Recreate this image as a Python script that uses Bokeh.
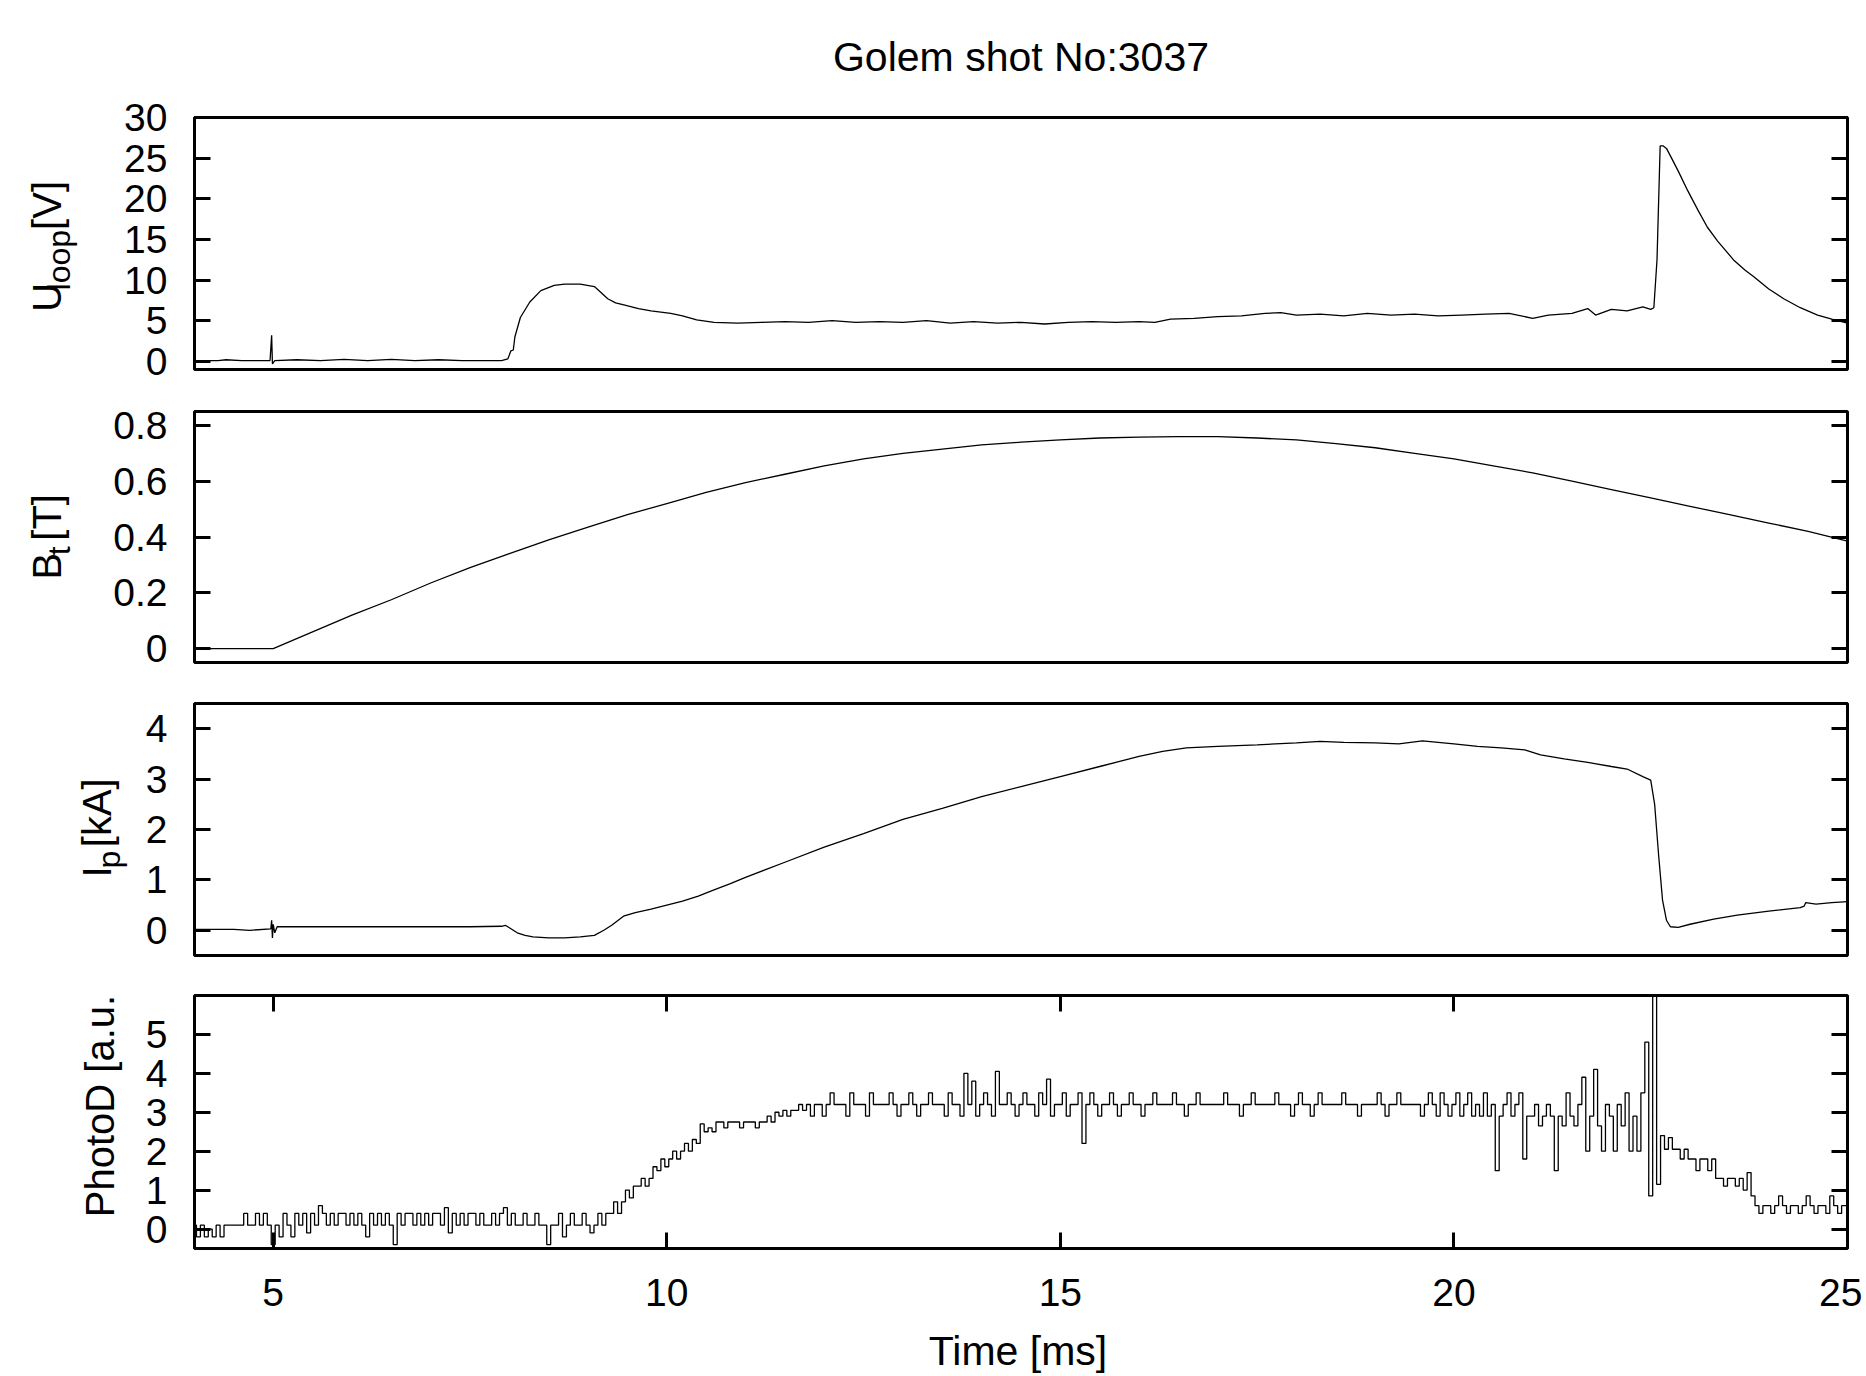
import numpy as np
from bokeh.plotting import figure
from bokeh.models import Range1d, LinearAxis, FixedTicker, CustomJSTickFormatter
from bokeh.core.properties import value
from bokeh.layouts import column, row
from bokeh.embed import file_html
from bokeh.resources import INLINE

# ---------------- data ----------------
TITLE = "Golem shot No:3037"
X_LABEL = "Time [ms]"
X_TICKS = [5, 10, 15, 20, 25]

ULOOP_T = [4.0, 4.3, 4.4, 4.6, 4.96, 4.98, 4.99, 5.02, 5.3, 5.6, 5.9, 6.2, 6.5, 6.8, 7.1, 7.4, 7.7,
           7.9, 7.98, 8.02, 8.05, 8.07, 8.14, 8.26, 8.4, 8.57, 8.7, 8.9, 9.08, 9.15, 9.25, 9.35,
           9.48, 9.64, 9.8, 10.05, 10.2, 10.38, 10.6, 10.9, 11.2, 11.5, 11.8, 12.1, 12.4, 12.7,
           13.0, 13.3, 13.6, 13.9, 14.2, 14.5, 14.8, 15.1, 15.4, 15.7, 16.0, 16.2, 16.4, 16.7,
           17.0, 17.3, 17.6, 17.8, 18.0, 18.3, 18.6, 18.9, 19.2, 19.5, 19.8, 20.1, 20.4, 20.7,
           21.0, 21.2, 21.5, 21.7, 21.8, 22.0, 22.2, 22.4, 22.5, 22.54, 22.58, 22.62, 22.66,
           22.7, 22.76, 22.85, 22.97, 23.1, 23.22, 23.35, 23.56, 23.7, 23.81, 24.0, 24.19, 24.4,
           24.62, 24.8, 25.0]
ULOOP_V = [0.1, 0.1, 0.2, 0.1, 0.1, 3.2, -0.3, 0.1, 0.2, 0.1, 0.25, 0.1, 0.25, 0.1, 0.2, 0.1, 0.1,
           0.1, 0.3, 1.3, 1.4, 3.0, 5.4, 7.3, 8.7, 9.35, 9.5, 9.5, 9.2, 8.6, 7.7, 7.2,
           6.9, 6.5, 6.2, 5.9, 5.6, 5.1, 4.8, 4.7, 4.8, 4.9, 4.8, 5.0, 4.8, 4.9,
           4.8, 5.0, 4.7, 4.9, 4.7, 4.8, 4.6, 4.8, 4.9, 4.8, 4.9, 4.8, 5.2, 5.3,
           5.5, 5.6, 5.9, 6.0, 5.7, 5.8, 5.6, 5.9, 5.7, 5.8, 5.6, 5.7, 5.8, 5.9,
           5.3, 5.7, 5.9, 6.5, 5.7, 6.4, 6.2, 6.7, 6.4, 6.6, 12.5, 26.5, 26.5,
           26.2, 25.1, 23.4, 21.0, 18.6, 16.5, 14.8, 12.4, 11.2, 10.4, 8.9, 7.7, 6.6,
           5.7, 5.2, 4.7]
ULOOP_TICKS = [0, 5, 10, 15, 20, 25, 30]

BT_T = [4.0, 5.0, 5.5, 6.0, 6.5, 7.0, 7.5, 8.0, 8.5, 9.0, 9.5, 10.0, 10.5, 11.0, 11.5, 12.0,
        12.5, 13.0, 13.5, 14.0, 14.5, 15.0, 15.5, 16.0, 16.5, 17.0, 17.5, 18.0, 18.5, 19.0,
        19.5, 20.0, 20.5, 21.0, 21.5, 22.0, 22.5, 23.0, 23.5, 24.0, 24.5, 25.0]
BT_V = [0.0, 0.0, 0.06, 0.12, 0.175, 0.235, 0.29, 0.34, 0.39, 0.435, 0.48, 0.52, 0.56, 0.595,
        0.625, 0.655, 0.68, 0.70, 0.715, 0.73, 0.74, 0.748, 0.755, 0.758, 0.76, 0.76, 0.755,
        0.748, 0.735, 0.72, 0.70, 0.68, 0.655, 0.63, 0.60, 0.57, 0.54, 0.51, 0.48, 0.45,
        0.42, 0.385]
BT_TICKS = [0, 0.2, 0.4, 0.6, 0.8]

IP_T = [4.0, 4.5, 4.7, 4.97, 4.98, 4.99, 5.0, 5.02, 5.05, 5.5, 6.0, 6.5, 7.0, 7.5, 7.9, 7.95,
        8.0, 8.1, 8.2, 8.3, 8.5, 8.7, 8.9, 9.08, 9.2, 9.3, 9.45, 9.6, 9.8, 10.0, 10.2, 10.4,
        10.6, 10.8, 11.0, 11.5, 12.0, 12.5, 13.0, 13.5, 14.0, 14.5, 15.0, 15.5, 16.0, 16.3,
        16.6, 17.0, 17.5, 18.0, 18.3, 18.6, 19.0, 19.3, 19.6, 19.8, 20.0, 20.3, 20.6, 20.9,
        21.1, 21.4, 21.7, 22.0, 22.2, 22.4, 22.5, 22.55, 22.6, 22.65, 22.7, 22.75, 22.85,
        23.0, 23.3, 23.6, 24.0, 24.4, 24.45, 24.47, 24.6, 24.8, 25.0]
IP_V = [0.02, 0.02, 0.0, 0.03, 0.2, -0.15, 0.12, -0.05, 0.07, 0.07, 0.07, 0.07, 0.07, 0.07,
        0.08, 0.1, 0.05, -0.05, -0.1, -0.13, -0.15, -0.15, -0.13, -0.1, 0.0, 0.1, 0.28, 0.35,
        0.42, 0.5, 0.58, 0.68, 0.8, 0.92, 1.05, 1.35, 1.65, 1.92, 2.2, 2.42, 2.65, 2.85, 3.05,
        3.25, 3.45, 3.55, 3.62, 3.65, 3.68, 3.72, 3.75, 3.73, 3.72, 3.70, 3.76, 3.73, 3.7,
        3.65, 3.62, 3.58, 3.48, 3.4, 3.33, 3.25, 3.2, 3.05, 2.98, 2.5, 1.5, 0.6, 0.2, 0.07,
        0.06, 0.12, 0.22, 0.3, 0.38, 0.45, 0.48, 0.55, 0.52, 0.55, 0.57]
IP_TICKS = [0, 1, 2, 3, 4]

PHOTOD_T0 = 4.0
PHOTOD_DT = 0.05
PHOTOD_V = [
    0.1, -0.2, 0.1, -0.2, 0.0, -0.2, 0.1, -0.2, 0.1, 0.1, 0.1, 0.1, 0.1, 0.4, 0.1, 0.1, 0.4, 0.1, 0.4, 0.1,
    -0.4, 0.1, -0.2, 0.4, 0.1, -0.2, 0.4, 0.1, 0.4, -0.1, 0.4, 0.1, 0.6, 0.4, 0.1, 0.4, 0.1, 0.4, 0.4, 0.1,
    0.4, 0.1, 0.4, 0.1, -0.2, 0.4, 0.1, 0.4, 0.1, 0.4, 0.1, -0.4, 0.4, 0.1, 0.4, 0.4, 0.1, 0.4, 0.1, 0.4,
    0.1, 0.4, 0.4, 0.1, 0.55, -0.1, 0.4, 0.1, 0.4, 0.1, 0.4, 0.4, 0.1, 0.4, 0.1, 0.1, 0.4, 0.1, 0.4, 0.55,
    0.1, 0.4, 0.1, 0.1, 0.4, 0.1, 0.1, 0.4, 0.1, 0.1, -0.4, 0.1, 0.1, 0.4, -0.2, 0.1, 0.4, 0.1, 0.1, 0.4,
    0.1, -0.1, 0.1, 0.4, 0.1, 0.4, 0.4, 0.7, 0.4, 0.7, 1.0, 0.8, 1.1, 1.1, 1.3, 1.1, 1.3, 1.6, 1.5, 1.8,
    1.6, 1.8, 2.0, 1.8, 2.0, 2.2, 2.0, 2.3, 2.2, 2.7, 2.5, 2.6, 2.5, 2.75, 2.75, 2.6, 2.75, 2.75, 2.75, 2.6,
    2.75, 2.75, 2.75, 2.6, 2.75, 2.75, 2.9, 2.75, 3.0, 2.9, 3.05, 2.9, 3.05, 3.05, 3.2, 3.05, 3.2, 2.9, 3.2, 3.2,
    2.9, 3.2, 3.5, 3.2, 3.2, 3.2, 2.9, 3.5, 3.2, 3.2, 3.2, 2.9, 3.5, 3.2, 3.2, 3.2, 3.2, 3.5, 3.2, 2.9,
    3.2, 3.2, 3.5, 3.2, 2.9, 3.2, 3.2, 3.5, 3.2, 3.2, 3.2, 2.9, 3.5, 3.2, 3.2, 2.9, 4.0, 3.2, 3.8, 2.9,
    3.2, 3.5, 3.2, 2.9, 4.05, 3.2, 3.2, 3.5, 3.2, 2.9, 3.2, 3.5, 3.2, 3.2, 2.9, 3.5, 3.2, 3.85, 2.9, 3.2,
    3.2, 3.5, 2.9, 3.2, 3.2, 3.5, 2.2, 3.2, 3.5, 3.2, 2.9, 3.2, 3.2, 3.5, 3.2, 2.9, 3.2, 3.2, 3.5, 3.2,
    3.2, 2.9, 3.2, 3.2, 3.5, 3.2, 3.2, 3.2, 3.2, 3.5, 3.2, 3.2, 2.9, 3.2, 3.2, 3.5, 3.2, 3.2, 3.2, 3.2,
    3.2, 3.2, 3.5, 3.2, 3.2, 3.2, 2.9, 3.2, 3.2, 3.5, 3.2, 3.2, 3.2, 3.2, 3.2, 3.5, 3.2, 3.2, 3.2, 2.9,
    3.2, 3.5, 3.2, 3.2, 2.9, 3.2, 3.5, 3.2, 3.2, 3.2, 3.2, 3.2, 3.5, 3.2, 3.2, 3.2, 2.9, 3.2, 3.2, 3.2,
    3.2, 3.5, 3.2, 2.9, 3.2, 3.2, 3.5, 3.2, 3.2, 3.2, 3.2, 3.2, 2.9, 3.2, 3.5, 3.2, 2.9, 3.5, 3.2, 2.9,
    3.2, 3.5, 2.9, 3.2, 3.5, 2.9, 3.2, 2.9, 3.5, 2.9, 3.2, 1.5, 2.9, 3.2, 3.5, 2.9, 3.2, 3.5, 1.8, 2.9,
    2.9, 3.2, 2.65, 2.9, 3.2, 2.9, 1.5, 2.9, 2.65, 3.5, 2.9, 2.65, 3.2, 3.9, 2.0, 2.9, 4.1, 2.65, 2.0, 3.2,
    2.9, 2.0, 3.2, 2.65, 3.5, 2.0, 2.9, 2.0, 3.5, 4.8, 0.85, 9.0, 1.15, 2.4, 2.05, 2.35, 2.05, 2.05, 1.8, 2.05,
    1.8, 1.8, 1.5, 1.8, 1.8, 1.5, 1.8, 1.3, 1.3, 1.1, 1.3, 1.3, 1.1, 1.3, 1.0, 1.45, 0.85, 0.6, 0.4, 0.6,
    0.6, 0.4, 0.6, 0.85, 0.6, 0.4, 0.6, 0.6, 0.4, 0.6, 0.85, 0.6, 0.4, 0.6, 0.6, 0.4, 0.85, 0.6, 0.4, 0.6,
    0.6,
]
PHOTOD_TICKS = [0, 1, 2, 3, 4, 5]

# y labels: (text, is_subscript); pure-space segments only advance the pen
ULOOP_LABEL = [("U", False), ("loop", True), (" ", False), ("[V]", False)]
BT_LABEL = [("B", False), ("t", True), (" ", False), ("[T]", False)]
IP_LABEL = [("I", False), ("p", True), (" ", False), ("[kA]", False)]
PHOTOD_LABEL = [("PhotoD [a.u.]", False)]

# ---------------- styling / layout ----------------
FONT = "Liberation Sans"
TICK_FS = 39
LABEL_FS = 40
SUB_FS = 32
TITLE_FS = 41
XLABEL_FS = 41
FRAME_LEFT = 194
FW = 1653
RIGHT = 15
TOTAL_W = FRAME_LEFT + FW + RIGHT

ARIAL = {'U': 722, ' ': 278, '[': 278, ']': 278, 'V': 667, 'l': 222, 'o': 556, 'p': 556,
         'B': 667, 't': 278, 'T': 611, 'I': 278, 'k': 500, 'A': 667, 'P': 667, 'h': 556,
         'D': 722, 'a': 556, '.': 278, 'u': 556}


def tw(s, size):
    return sum(ARIAL.get(c, 556) for c in s) / 1000.0 * size


xr = Range1d(4, 25)


def text_fig(w, h):
    f = figure(width=w, height=h, x_range=Range1d(0, w), y_range=Range1d(0, h),
               min_border=0, output_backend="svg", toolbar_location=None,
               x_axis_location=None, y_axis_location=None)
    f.outline_line_color = None
    f.xgrid.grid_line_color = None
    f.ygrid.grid_line_color = None
    return f


def style_axis(ax, ticks, labels=True):
    ax.ticker = FixedTicker(ticks=ticks)
    ax.major_tick_in = 16
    ax.major_tick_out = 0
    ax.major_tick_line_width = 3
    ax.major_tick_line_color = "black"
    ax.minor_tick_line_color = None
    ax.axis_line_color = None
    if labels:
        ax.formatter = CustomJSTickFormatter(code="return String(tick)")
        ax.major_label_text_font = FONT
        ax.major_label_text_font_size = f"{TICK_FS}px"
        ax.major_label_text_color = "black"
    else:
        ax.formatter = CustomJSTickFormatter(code="return ''")
        ax.major_label_standoff = 0


def make_row(t, v, yrange, yticks, fh, top, bottom, label, baseline_x, label_w, last=False, step=False):
    p = figure(frame_width=FW, frame_height=fh, x_range=xr, y_range=Range1d(*yrange),
               min_border_left=FRAME_LEFT - label_w, min_border_right=RIGHT,
               min_border_top=top, min_border_bottom=bottom,
               output_backend="svg", toolbar_location=None,
               x_axis_location="below" if last else None, y_axis_location="left")
    p.outline_line_color = "black"
    p.outline_line_width = 3
    p.xgrid.grid_line_color = None
    p.ygrid.grid_line_color = None

    yax = p.yaxis[0]
    style_axis(yax, yticks)
    yax.major_label_standoff = 27
    rax = LinearAxis()
    style_axis(rax, yticks, labels=False)
    p.add_layout(rax, "right")

    if last:
        bax = p.below[0]
        style_axis(bax, X_TICKS)
        bax.major_label_standoff = 30
        tax = LinearAxis()
        style_axis(tax, X_TICKS, labels=False)
        p.add_layout(tax, "above")

    if step:
        p.step(t, v, mode="center", line_color="black", line_width=1.3)
    else:
        p.line(t, v, line_color="black", line_width=1.3)

    # rotated y label (with subscript) in its own text strip; each piece centre-anchored
    h = top + fh + bottom
    lf = text_fig(label_w, h)
    total = sum(tw(s, SUB_FS if sub else LABEL_FS) for s, sub in label)
    frame_mid = h - (top + fh / 2.0)          # strip coords, y up
    pos = frame_mid - total / 2.0
    for s, sub in label:
        size = SUB_FS if sub else LABEL_FS
        w = tw(s, size)
        if s.strip():
            mid_x = baseline_x + (10 if sub else 0) - 0.35 * size
            lf.text(x=[mid_x], y=[pos + w / 2.0], text=[s], angle=np.pi / 2,
                    text_align="center", text_baseline="middle",
                    text_font=value(FONT), text_font_size=value(f"{size}px"), text_color="black")
        pos += w
    return row(lf, p, spacing=0)


TITLE_H = 87
tf = text_fig(TOTAL_W, TITLE_H)
tf.text(x=[FRAME_LEFT + FW / 2.0], y=[TITLE_H - 56], text=[TITLE], text_align="center",
        text_baseline="middle", text_font=value(FONT), text_font_size=value(f"{TITLE_FS}px"),
        text_color="black")

r1 = make_row(ULOOP_T, ULOOP_V, (-1, 30), ULOOP_TICKS, 252, 30, 21, ULOOP_LABEL, 60, 110)
r2 = make_row(BT_T, BT_V, (-0.05, 0.85), BT_TICKS, 251, 21, 20, BT_LABEL, 60, 110)
r3 = make_row(IP_T, IP_V, (-0.5, 4.5), IP_TICKS, 252, 21, 20, IP_LABEL, 110, 140)
pd_t = PHOTOD_T0 + PHOTOD_DT * np.arange(len(PHOTOD_V))
r4 = make_row(pd_t, PHOTOD_V, (-0.5, 6.0), PHOTOD_TICKS, 253, 20, 80, PHOTOD_LABEL, 113, 135,
              last=True, step=True)

BOT_H = 46
bf = text_fig(TOTAL_W, BOT_H)
bf.text(x=[FRAME_LEFT + FW / 2.0 - 3], y=[BOT_H - 22], text=[X_LABEL], text_align="center",
        text_baseline="middle", text_font=value(FONT), text_font_size=value(f"{XLABEL_FS}px"),
        text_color="black")

layout = column(tf, r1, r2, r3, r4, bf, spacing=0)
open("out.html", "w").write(file_html(layout, INLINE))
